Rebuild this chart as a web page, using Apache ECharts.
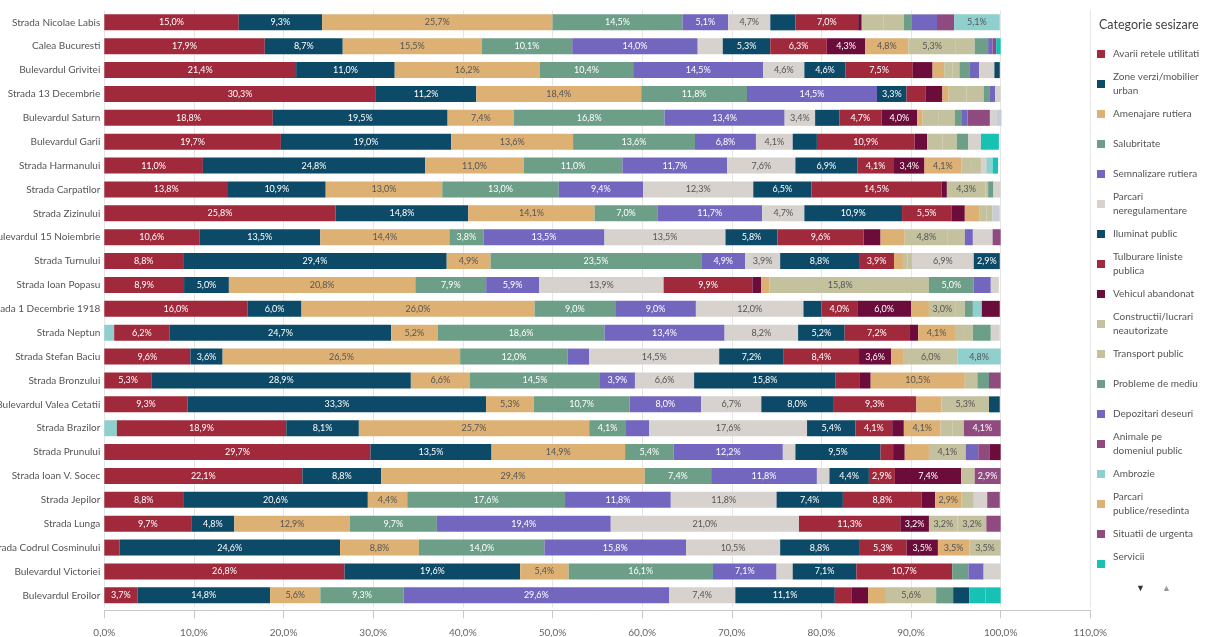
<!DOCTYPE html>
<html><head><meta charset="utf-8">
<script src="https://cdn.jsdelivr.net/npm/echarts@6/dist/echarts.min.js"></script>
<style>html,body{margin:0;padding:0;background:#fff}#c{width:1206px;height:637px}</style>
</head><body><div id="c"></div>
<script>
const categories = ["Strada Nicolae Labis","Calea Bucuresti","Bulevardul Grivitei","Strada 13 Decembrie","Bulevardul Saturn","Bulevardul Garii","Strada Harmanului","Strada Carpatilor","Strada Zizinului","Bulevardul 15 Noiembrie","Strada Turnului","Strada Ioan Popasu","Strada 1 Decembrie 1918","Strada Neptun","Strada Stefan Baciu","Strada Bronzului","Bulevardul Valea Cetatii","Strada Brazilor","Strada Prunului","Strada Ioan V. Socec","Strada Jepilor","Strada Lunga","Strada Codrul Cosminului","Bulevardul Victoriei","Bulevardul Eroilor"];
const xTicks = [0,10,20,30,40,50,60,70,80,90,100,110];

const alteInceput = [0,0,0,0,0,0,0,0,0,0,0,0,0,1.1,0,0,0,1.4,0,0,0,0,0,0,0];
const avarii = [15.0,17.9,21.4,30.3,18.8,19.7,11.0,13.8,25.8,10.6,8.8,8.9,16.0,6.2,9.6,5.3,9.3,18.9,29.7,22.1,8.8,9.7,1.7,26.8,3.7];
const zoneVerzi = [9.3,8.7,11.0,11.2,19.5,19.0,24.8,10.9,14.8,13.5,29.4,5.0,6.0,24.7,3.6,28.9,33.3,8.1,13.5,8.8,20.6,4.8,24.6,19.6,14.8];
const amenajare = [25.7,15.5,16.2,18.4,7.4,13.6,11.0,13.0,14.1,14.4,4.9,20.8,26.0,5.2,26.5,6.6,5.3,25.7,14.9,29.4,4.4,12.9,8.8,5.4,5.6];
const salubritate = [14.5,10.1,10.4,11.8,16.8,13.6,11.0,13.0,7.0,3.8,23.5,7.9,9.0,18.6,12.0,14.5,10.7,4.1,5.4,7.4,17.6,9.7,14.0,16.1,9.3];
const semnalizare = [5.1,14.0,14.5,14.5,13.4,6.8,11.7,9.4,11.7,13.5,4.9,5.9,9.0,13.4,2.4,3.9,8.0,2.6,12.2,11.8,11.8,19.4,15.8,7.1,29.6];
const parcariNeregulamentare = [4.7,2.8,4.6,0,3.4,4.1,7.6,12.3,4.7,13.5,3.9,13.9,12.0,8.2,14.5,6.6,6.7,17.6,1.4,1.4,11.8,21.0,10.5,1.8,7.4];
const iluminat = [2.8,5.3,4.6,3.3,2.7,2.7,6.9,6.5,10.9,5.8,8.8,0,2.0,5.2,7.2,15.8,8.0,5.4,9.5,4.4,7.4,0,8.8,7.1,11.1];
const tulburare = [7.0,6.3,7.5,2.1,4.7,10.9,4.1,14.5,5.5,9.6,3.9,9.9,4.0,7.2,8.4,2.7,9.3,4.1,1.4,2.9,8.8,11.3,5.3,10.7,1.9];
const vehicul = [0.4,4.3,2.2,1.9,4.0,1.4,3.4,0.6,1.5,1.9,0,1.0,6.0,1.0,3.6,1.2,0,1.3,1.3,7.4,1.5,3.2,3.5,0,1.8];
const parcariPublice = [0,4.8,1.3,0.7,0.6,0,4.1,0,1.6,2.7,1.0,0.9,2.0,4.1,1.4,10.5,2.8,4.1,2.7,0,2.9,0,3.5,0,2.0];
const constructii = [2.4,5.3,0.9,2.0,1.8,1.7,1.1,4.3,0.8,4.8,0.5,15.8,3.0,1.0,6.0,1.4,5.3,1.3,4.1,1.5,1.4,3.2,3.5,0,5.6];
const transport = [2.3,2.1,0.8,1.9,1.8,1.6,1.1,0.3,0.7,1.9,0.5,2.0,1.0,1.0,0,0,0,1.3,0,0,0,3.2,0,0,0];
const mediu = [0.9,1.5,1.1,0.7,0.7,1.3,0,0.6,0,0,0,5.0,0.9,2.0,0,1.3,0,0,0,0,0,0,0,1.8,1.9];
const depozitari = [2.8,0.5,1.1,0.6,0.7,0,0,0,0,0.9,0,1.9,0,0,0,0,0,0,1.4,0,0,0,0,1.7,0];
const animale = [1.9,0.4,0,0,2.5,0,0,0,0,0,0,0,0,0,0,1.3,0,4.1,1.3,0,0,0,0,0,0];
const alteGri = [0,0,1.7,0.6,0.7,1.4,0.6,0.8,0,2.2,6.9,0.9,0,1.0,0,0,0,0,0,0,1.5,0,0,1.9,0];
const ambrozie = [5.1,0,0,0,0,0,0.7,0,0,0,0,0,1.0,0,4.8,0,0,0,0,0,0,0,0,0,0];
const situatii = [0,0,0,0,0,0,0,0,0,0.9,0,0,0,0,0,0,0,0,0,2.9,1.4,1.6,0,0,0];
const alteInchis = [0,0,0.6,0,0,0,0,0,0,0,2.9,0,0,0,0,0,1.2,0,0,0,0,0,0,0,1.8];
const servicii = [0,0.5,0,0,0,2.0,0.6,0,0,0,0,0,0,0,0,0,0,0,0,0,0,0,0,0,1.8];
const alteAlbastru = [0,0,0,0,0.6,0,0,0,0.8,0,0,0,0,0,0,0,0,0,0,0,0,0,0,0,0];
const alteVisiniu = [0,0,0,0,0,0,0,0,0,0,0,0,2.0,0,0,0,0,0,1.2,0,0,0,0,0,0];
const alteTurcoaz = [0,0,0,0,0,0,0,0,0,0,0,0,0,0,0,0,0,0,0,0,0,0,0,0,1.7];

const C = {crimson:'#a0293b', dark:'#0c4a67', tan:'#ddb074', sage:'#6c9e88', purple:'#7366be', gray:'#d7d2cd', maroon:'#6b0c3b', khaki:'#c3c19e', magenta:'#8f4a7f', lteal:'#8fcfcd', bteal:'#17c2b4', lblue:'#c6cdd8'};
const lightCols = new Set([C.tan, C.gray, C.khaki, C.lteal, C.lblue]);

const stackDefs = [
  ['alte_0', alteInceput, C.lteal],
  ['Avarii retele utilitati', avarii, C.crimson],
  ['Zone verzi/mobilier urban', zoneVerzi, C.dark],
  ['Amenajare rutiera', amenajare, C.tan],
  ['Salubritate', salubritate, C.sage],
  ['Semnalizare rutiera', semnalizare, C.purple],
  ['Parcari neregulamentare', parcariNeregulamentare, C.gray],
  ['Iluminat public', iluminat, C.dark],
  ['Tulburare liniste publica', tulburare, C.crimson],
  ['Vehicul abandonat', vehicul, C.maroon],
  ['Parcari publice/resedinta', parcariPublice, C.tan],
  ['Constructii/lucrari neautorizate', constructii, C.khaki],
  ['Transport public', transport, C.khaki],
  ['Probleme de mediu', mediu, C.sage],
  ['Depozitari deseuri', depozitari, C.purple],
  ['Animale pe domeniul public', animale, C.magenta],
  ['alte_1', alteGri, C.gray],
  ['Ambrozie', ambrozie, C.lteal],
  ['Situatii de urgenta', situatii, C.magenta],
  ['alte_2', alteInchis, C.dark],
  ['Servicii', servicii, C.bteal],
  ['alte_3', alteAlbastru, C.lblue],
  ['alte_4', alteVisiniu, C.maroon],
  ['alte_5', alteTurcoaz, C.bteal]
];
const legendOrder = ['Avarii retele utilitati','Zone verzi/mobilier urban','Amenajare rutiera','Salubritate','Semnalizare rutiera','Parcari neregulamentare','Iluminat public','Tulburare liniste publica','Vehicul abandonat','Constructii/lucrari neautorizate','Transport public','Probleme de mediu','Depozitari deseuri','Animale pe domeniul public','Ambrozie','Parcari publice/resedinta','Situatii de urgenta','Servicii'];
const legendLines = {
  'Zone verzi/mobilier urban':['Zone verzi/mobilier','urban'],
  'Parcari neregulamentare':['Parcari','neregulamentare'],
  'Tulburare liniste publica':['Tulburare liniste','publica'],
  'Constructii/lucrari neautorizate':['Constructii/lucrari','neautorizate'],
  'Animale pe domeniul public':['Animale pe','domeniul public'],
  'Parcari publice/resedinta':['Parcari','publice/resedinta'],
  'Servicii':['Servicii',' ']
};
const fmt = v => v.toFixed(1).replace('.', ',') + '%';
const FONT = 'Lato';

const series = stackDefs.map(([name, data, color]) => ({
  name, type:'bar', stack:'total', barWidth:16, data,
  itemStyle:{color},
  emphasis:{disabled:true},
  label:{show:true, position:'inside', fontSize:9, fontFamily:FONT,
    color: lightCols.has(color) ? '#555' : '#fff',
    formatter: p => p.value >= 2.9 ? fmt(p.value) : ''}
}));

const legends = legendOrder.map((name, i) => {
  const l = legendLines[name];
  const twoLine = !!l;
  return {
    orient:'vertical', left:1097, top: 54 + i * 30 - (twoLine ? 14 : 7),
    itemWidth:8, itemHeight:8, itemGap:0, icon:'rect', padding:0,
    data:[name], selectedMode:false,
    formatter: n => twoLine ? l[0] + '\n' + l[1] : n,
    textStyle:{fontSize:10, color:'#555', fontFamily:FONT, lineHeight:14, padding:[0,0,0,3]}
  };
});

const chart = echarts.init(document.getElementById('c'), null, {renderer:'canvas'});
chart.setOption({
  animation:false,
  backgroundColor:'#fff',
  textStyle:{fontFamily:FONT},
  title:{text:'Categorie sesizare', left:1099, top:18, padding:0, textStyle:{fontSize:12.5, fontWeight:'normal', color:'#444', fontFamily:FONT}},
  grid:{left:104.3, right:115.7, top:10.4, height:596.9, containLabel:false, outerBoundsMode:'none'},
  xAxis:{type:'value', min:0, max:110, interval:10, offset:3,
    axisLine:{show:true, lineStyle:{color:'#c8c8c8'}},
    axisTick:{show:true, length:8, lineStyle:{color:'#c8c8c8'}},
    splitLine:{show:true, lineStyle:{color:'#e6e6e6'}},
    axisLabel:{formatter: v => fmt(v), fontSize:10, color:'#666', margin:17, fontFamily:FONT}},
  yAxis:{type:'category', data:categories, inverse:true,
    axisLine:{show:false}, axisTick:{show:false},
    axisLabel:{fontSize:10, color:'#555', margin:4, fontFamily:FONT}},
  legend: legends,
  graphic:[
    {type:'text', left:1136, top:584, style:{text:'▼', fontSize:9, fill:'#333'}},
    {type:'text', left:1162, top:584, style:{text:'▲', fontSize:9, fill:'#999'}}
  ],
  series
});
</script></body></html>
